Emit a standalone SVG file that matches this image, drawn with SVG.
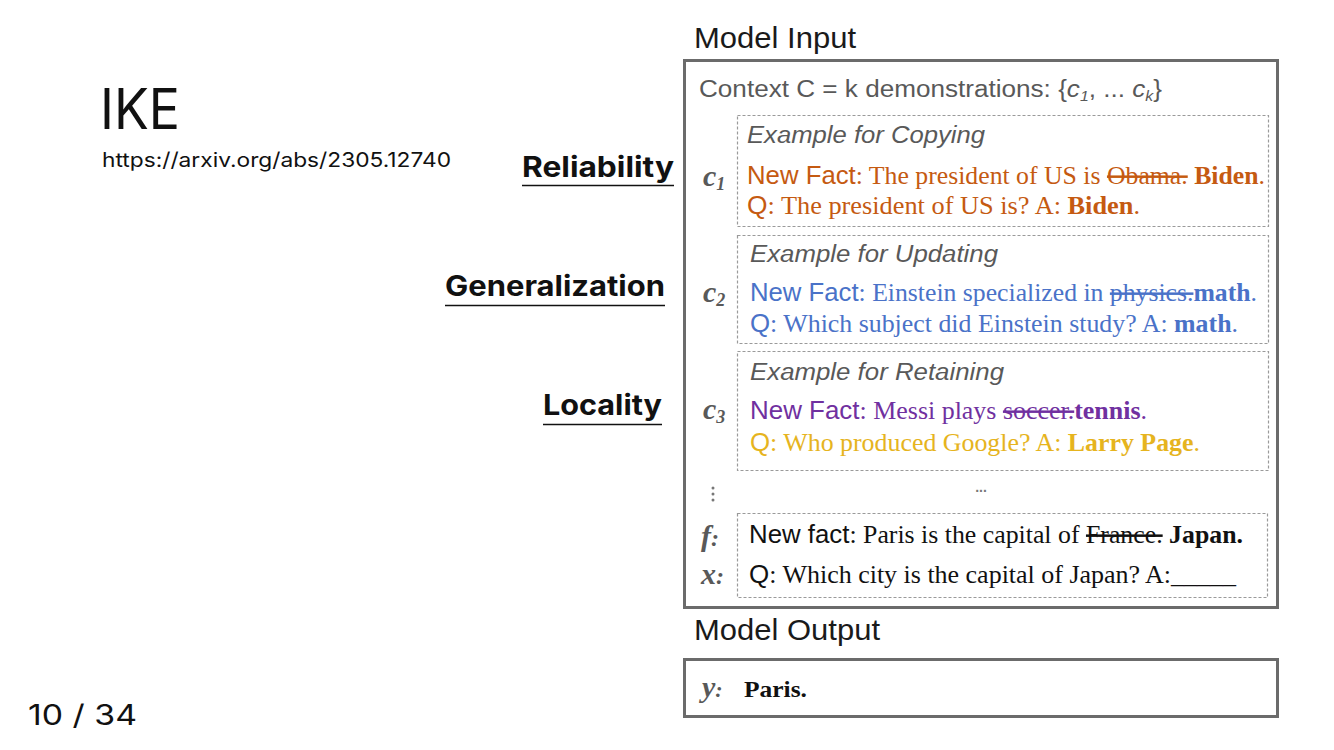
<svg xmlns="http://www.w3.org/2000/svg" width="1334" height="750" viewBox="0 0 1334 750">
<style>
.slide{font-family:Inter,"Noto Sans",sans-serif;fill:#111}
.lab{font-family:Inter,Roboto,sans-serif;font-weight:700;font-size:28px;fill:#111}
.ul{stroke:#111;stroke-width:1.5}
.sans{font-family:"Liberation Sans",Arial,sans-serif}
.serif{font-family:"Liberation Serif","Times New Roman",serif}
.hdr{font-family:"Liberation Sans",Arial,sans-serif;font-size:29px;fill:#1a1a1a}
.ctx{font-family:"Liberation Sans",Arial,sans-serif;font-size:23px;fill:#595959}
.ex{font-family:"Liberation Sans",Arial,sans-serif;font-style:italic;font-size:23px;fill:#595959}
.var{font-family:"Liberation Serif","Times New Roman",serif;font-style:italic;font-weight:700;font-size:30px;fill:#595959}
.outer{fill:#fff;stroke:#6b6b6b;stroke-width:3}
.dash{fill:#fff;stroke:#9a9a9a;stroke-width:1.2;stroke-dasharray:3 2}
.ln{font-size:25px}
.b{font-weight:700}
.s{text-decoration:line-through}
</style>
<rect width="1334" height="750" fill="#fff"/>
<g id="title">
<text class="slide" x="100" y="129" font-size="56" textLength="80" lengthAdjust="spacingAndGlyphs">IKE</text>
<text class="slide" x="102" y="167" font-size="20" textLength="349" lengthAdjust="spacingAndGlyphs">https://arxiv.org/abs/2305.12740</text>
</g>
<g id="label-reliability">
<text class="lab" x="522" y="177" textLength="152" lengthAdjust="spacingAndGlyphs">Reliability</text>
<line class="ul" x1="522" y1="185.5" x2="674" y2="185.5"/>
</g>
<g id="label-generalization">
<text class="lab" x="445" y="296" textLength="220" lengthAdjust="spacingAndGlyphs">Generalization</text>
<line class="ul" x1="445" y1="305.5" x2="665" y2="305.5"/>
</g>
<g id="label-locality">
<text class="lab" x="543" y="415" textLength="119" lengthAdjust="spacingAndGlyphs">Locality</text>
<line class="ul" x1="543" y1="424.5" x2="662" y2="424.5"/>
</g>
<g id="page">
<text class="slide" x="28" y="725" font-size="28" textLength="109" lengthAdjust="spacingAndGlyphs">10 / 34</text>
</g>
<g id="model-input">
<text class="hdr" x="694" y="48" textLength="162" lengthAdjust="spacingAndGlyphs">Model Input</text>
<rect class="outer" x="684.5" y="60.5" width="593" height="547"/>
<text class="ctx" x="699" y="97" textLength="463" lengthAdjust="spacingAndGlyphs">Context C = k demonstrations: {<tspan font-style="italic">c</tspan><tspan font-style="italic" font-size="14" dy="4">1</tspan><tspan dy="-4">, ... </tspan><tspan font-style="italic">c</tspan><tspan font-style="italic" font-size="14" dy="4">k</tspan><tspan dy="-4">}</tspan></text>
</g>
<g id="c1">
<rect class="dash" x="737.5" y="115.5" width="531" height="111"/>
<text class="ex" x="747" y="143" textLength="238" lengthAdjust="spacingAndGlyphs">Example for Copying</text>
<text class="var" x="703" y="186">c<tspan font-size="18" dy="4">1</tspan></text>
<text class="ln serif" x="747" y="184" fill="#c55a11" textLength="518" lengthAdjust="spacingAndGlyphs"><tspan class="sans">New Fact</tspan>: The president of US is <tspan class="s">Obama.</tspan> <tspan class="b">Biden</tspan>.</text>
<text class="ln serif" x="747" y="214" fill="#c55a11" textLength="393" lengthAdjust="spacingAndGlyphs"><tspan class="sans">Q</tspan>: The president of  US is? A: <tspan class="b">Biden</tspan>.</text>
</g>
<g id="c2">
<rect class="dash" x="737.5" y="235.5" width="531" height="108"/>
<text class="ex" x="750" y="262" textLength="248" lengthAdjust="spacingAndGlyphs">Example for Updating</text>
<text class="var" x="703" y="302">c<tspan font-size="18" dy="4">2</tspan></text>
<text class="ln serif" x="750" y="301" fill="#4a72c8" textLength="507" lengthAdjust="spacingAndGlyphs"><tspan class="sans">New Fact</tspan>: Einstein specialized in <tspan class="s">physics.</tspan><tspan class="b">math</tspan>.</text>
<text class="ln serif" x="750" y="332" fill="#4a72c8" textLength="488" lengthAdjust="spacingAndGlyphs"><tspan class="sans">Q</tspan>: Which subject did Einstein study? A: <tspan class="b">math</tspan>.</text>
</g>
<g id="c3">
<rect class="dash" x="737.5" y="351.5" width="531" height="119"/>
<text class="ex" x="750" y="380" textLength="254" lengthAdjust="spacingAndGlyphs">Example for Retaining</text>
<text class="var" x="703" y="419">c<tspan font-size="18" dy="4">3</tspan></text>
<text class="ln serif" x="750" y="419" fill="#7030a0" textLength="397" lengthAdjust="spacingAndGlyphs"><tspan class="sans">New Fact</tspan>: Messi plays <tspan class="s">soccer.</tspan><tspan class="b">tennis</tspan>.</text>
<text class="ln serif" x="750" y="451" fill="#e6b41e" textLength="450" lengthAdjust="spacingAndGlyphs"><tspan class="sans">Q</tspan>: Who produced Google? A: <tspan class="b">Larry Page</tspan>.</text>
</g>
<g id="ellipsis">
<circle cx="713" cy="488" r="1.5" fill="#777"/>
<circle cx="713" cy="494" r="1.5" fill="#777"/>
<circle cx="713" cy="500" r="1.5" fill="#777"/>
<text class="sans" x="981" y="492" font-size="14" font-weight="700" fill="#777" text-anchor="middle">...</text>
</g>
<g id="query">
<rect class="dash" x="737.5" y="513.5" width="530" height="84"/>
<text class="var" x="701" y="546">f<tspan font-size="24">:</tspan></text>
<text class="var" x="701" y="584">x<tspan font-size="24">:</tspan></text>
<text class="ln serif" x="749" y="543" fill="#111" textLength="494" lengthAdjust="spacingAndGlyphs"><tspan class="sans">New fact</tspan>: Paris is the capital of <tspan class="s">France.</tspan> <tspan class="b">Japan.</tspan></text>
<text class="ln serif" x="749" y="583" fill="#111" textLength="487" lengthAdjust="spacingAndGlyphs"><tspan class="sans">Q</tspan>: Which city is the capital of Japan? A:_____</text>
</g>
<g id="model-output">
<text class="hdr" x="694" y="640" textLength="186" lengthAdjust="spacingAndGlyphs">Model Output</text>
<rect class="outer" x="684.5" y="659.5" width="593" height="57"/>
<text class="var" x="702" y="697">y<tspan font-size="22">:</tspan></text>
<text class="serif b" x="744" y="697" font-size="23" fill="#111" textLength="63" lengthAdjust="spacingAndGlyphs">Paris.</text>
</g>
</svg>
